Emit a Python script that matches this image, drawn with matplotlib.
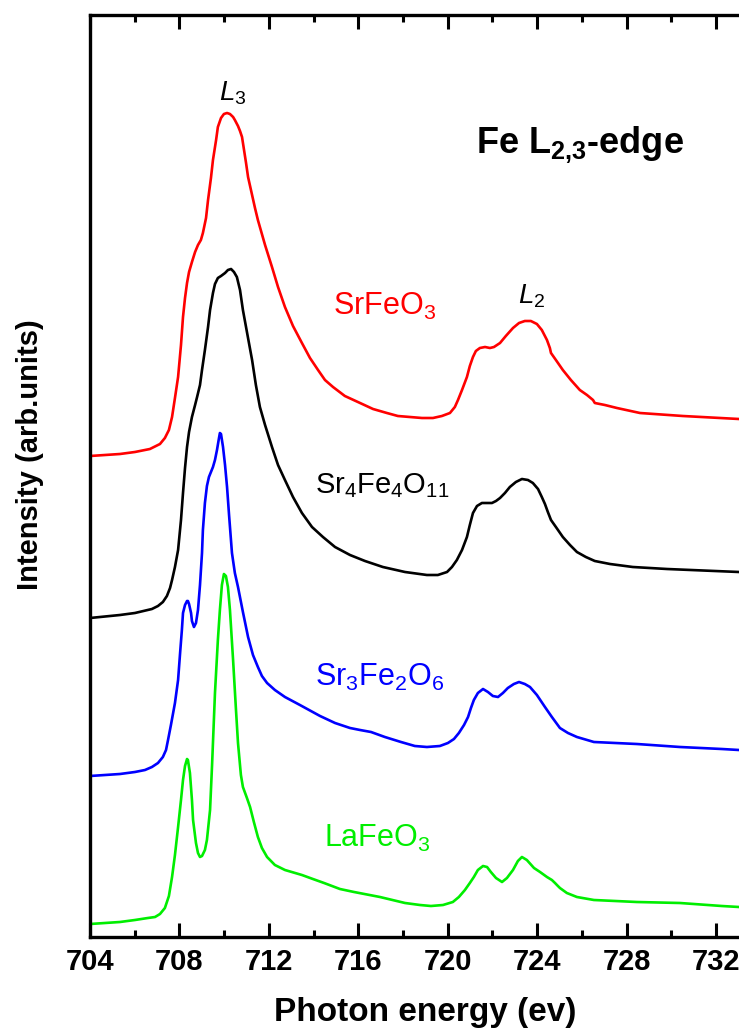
import matplotlib
matplotlib.use("Agg")
import matplotlib.pyplot as plt
from matplotlib.ticker import MultipleLocator

plt.rcParams['font.family'] = ['Liberation Sans', 'DejaVu Sans']
plt.rcParams['mathtext.fontset'] = 'custom'
plt.rcParams['mathtext.rm'] = 'Liberation Sans'
plt.rcParams['mathtext.it'] = 'Liberation Sans:italic'
plt.rcParams['mathtext.bf'] = 'Liberation Sans:bold'

# ---------------- data (photon energy in eV, intensity in arb. units, curves offset) ----------------
sfo_x = [704.00, 705.34, 706.01, 706.68, 707.13, 707.35, 707.53, 707.67, 707.80, 707.94, 708.07,
         708.16, 708.25, 708.34, 708.43, 708.56, 708.70, 708.83, 708.96, 709.05, 709.19, 709.28,
         709.41, 709.50, 709.64, 709.72, 709.86, 709.99, 710.13, 710.26, 710.40, 710.48, 710.62,
         710.71, 710.80, 710.89, 710.98, 711.07, 711.25, 711.38, 711.51, 711.83, 712.14, 712.41,
         712.72, 713.08, 713.48, 713.84, 714.20, 714.51, 714.87, 715.40, 716.08, 716.66, 717.28,
         717.77, 718.31, 718.85, 719.34, 719.74, 720.10, 720.32, 720.46, 720.64, 720.86, 720.99,
         721.13, 721.26, 721.44, 721.67, 721.89, 722.07, 722.34, 722.60, 722.92, 723.19, 723.45,
         723.72, 723.99, 724.21, 724.44, 724.57, 724.62, 724.84, 725.15, 725.51, 725.91, 726.23,
         726.50, 726.58, 727.03, 727.57, 728.60, 730.52, 733.03]
sfo_y = [4.81, 4.83, 4.85, 4.88, 4.93, 4.99, 5.07, 5.20, 5.39, 5.60, 5.92,
         6.20, 6.39, 6.54, 6.65, 6.75, 6.85, 6.92, 6.97, 7.04, 7.19, 7.37,
         7.59, 7.77, 7.97, 8.10, 8.19, 8.23, 8.24, 8.23, 8.20, 8.17, 8.11,
         8.06, 8.00, 7.87, 7.74, 7.60, 7.42, 7.29, 7.17, 6.92, 6.70, 6.50,
         6.30, 6.11, 5.94, 5.79, 5.67, 5.57, 5.50, 5.41, 5.34, 5.28, 5.24,
         5.21, 5.20, 5.19, 5.19, 5.21, 5.24, 5.30, 5.37, 5.47, 5.60, 5.71,
         5.80, 5.86, 5.89, 5.90, 5.89, 5.90, 5.94, 6.01, 6.09, 6.14, 6.16,
         6.16, 6.13, 6.07, 5.97, 5.89, 5.84, 5.77, 5.67, 5.57, 5.47, 5.42,
         5.37, 5.34, 5.32, 5.29, 5.24, 5.21, 5.18]

s4_x = [704.00, 705.34, 706.01, 706.77, 707.04, 707.26, 707.44, 707.58, 707.67, 707.80, 707.94,
        708.07, 708.16, 708.25, 708.34, 708.43, 708.56, 708.70, 708.79, 708.92, 709.01, 709.14,
        709.28, 709.37, 709.50, 709.59, 709.72, 709.86, 710.04, 710.17, 710.31, 710.44, 710.57,
        710.71, 710.84, 711.02, 711.25, 711.42, 711.60, 711.83, 712.14, 712.41, 712.72, 713.08,
        713.48, 713.93, 714.42, 714.96, 715.63, 716.30, 717.10, 718.09, 719.07, 719.56, 719.97,
        720.19, 720.41, 720.64, 720.86, 720.99, 721.13, 721.31, 721.53, 721.76, 721.98, 722.16,
        722.34, 722.56, 722.78, 723.05, 723.32, 723.59, 723.81, 724.04, 724.21, 724.35, 724.48,
        724.62, 724.84, 725.15, 725.47, 725.78, 726.18, 726.58, 727.26, 728.28, 729.81, 733.03]
s4_y = [3.19, 3.22, 3.24, 3.28, 3.31, 3.35, 3.41, 3.49, 3.57, 3.70, 3.87,
        4.17, 4.44, 4.69, 4.90, 5.05, 5.20, 5.32, 5.40, 5.52, 5.67, 5.87,
        6.10, 6.27, 6.44, 6.53, 6.59, 6.61, 6.64, 6.67, 6.68, 6.65, 6.60,
        6.47, 6.27, 6.05, 5.77, 5.52, 5.30, 5.12, 4.90, 4.72, 4.57, 4.40,
        4.24, 4.10, 4.00, 3.90, 3.82, 3.76, 3.70, 3.65, 3.62, 3.62, 3.65,
        3.70, 3.77, 3.87, 4.00, 4.12, 4.24, 4.31, 4.34, 4.34, 4.34, 4.36,
        4.39, 4.44, 4.50, 4.55, 4.58, 4.57, 4.54, 4.48, 4.40, 4.33, 4.25,
        4.17, 4.10, 4.00, 3.92, 3.85, 3.80, 3.76, 3.73, 3.70, 3.68, 3.65]

s3_x = [704.00, 705.34, 706.01, 706.46, 706.77, 707.04, 707.26, 707.40, 707.49, 707.62, 707.80,
        707.94, 708.03, 708.11, 708.16, 708.25, 708.34, 708.38, 708.43, 708.52, 708.56, 708.65,
        708.74, 708.83, 708.92, 709.01, 709.05, 709.14, 709.23, 709.32, 709.41, 709.50, 709.59,
        709.68, 709.77, 709.81, 709.86, 709.95, 710.04, 710.13, 710.22, 710.35, 710.48, 710.62,
        710.84, 711.07, 711.29, 711.51, 711.69, 711.92, 712.27, 712.72, 713.39, 714.29, 714.96,
        715.63, 716.08, 716.57, 717.19, 717.91, 718.53, 719.07, 719.65, 720.01, 720.28, 720.50,
        720.73, 720.91, 721.04, 721.17, 721.35, 721.58, 721.80, 722.02, 722.25, 722.47, 722.69,
        722.96, 723.19, 723.45, 723.68, 723.99, 724.35, 724.66, 725.02, 725.38, 725.78, 726.54,
        728.46, 730.39, 732.26, 733.03]
s3_y = [1.61, 1.63, 1.65, 1.67, 1.70, 1.74, 1.80, 1.87, 1.97, 2.12, 2.34,
        2.57, 2.84, 3.07, 3.24, 3.32, 3.36, 3.36, 3.33, 3.24, 3.16, 3.10,
        3.14, 3.27, 3.52, 3.84, 4.07, 4.34, 4.51, 4.60, 4.65, 4.70, 4.77,
        4.87, 4.99, 5.04, 5.03, 4.90, 4.72, 4.50, 4.22, 3.84, 3.64, 3.50,
        3.25, 3.00, 2.82, 2.70, 2.61, 2.54, 2.47, 2.40, 2.32, 2.21, 2.14,
        2.09, 2.07, 2.05, 2.00, 1.95, 1.91, 1.90, 1.91, 1.94, 1.98, 2.04,
        2.12, 2.20, 2.29, 2.37, 2.44, 2.48, 2.45, 2.41, 2.40, 2.44, 2.49,
        2.53, 2.55, 2.53, 2.50, 2.42, 2.30, 2.20, 2.09, 2.04, 2.00, 1.95,
        1.93, 1.90, 1.88, 1.87]

lfo_x = [704.00, 705.34, 706.01, 706.59, 706.91, 707.13, 707.35, 707.53, 707.67, 707.80, 707.94,
         708.07, 708.16, 708.25, 708.34, 708.38, 708.47, 708.56, 708.61, 708.74, 708.83, 708.92,
         709.01, 709.14, 709.23, 709.37, 709.46, 709.59, 709.72, 709.81, 709.90, 709.99, 710.08,
         710.17, 710.26, 710.40, 710.53, 710.62, 710.75, 710.84, 711.02, 711.16, 711.33, 711.51,
         711.69, 711.92, 712.27, 712.72, 713.48, 713.97, 714.47, 715.18, 715.81, 716.97, 718.09,
         718.76, 719.25, 719.79, 720.23, 720.50, 720.77, 720.99, 721.17, 721.35, 721.58, 721.76,
         721.93, 722.16, 722.43, 722.65, 722.92, 723.14, 723.32, 723.54, 723.86, 724.13, 724.44,
         724.66, 724.80, 724.93, 725.02, 725.33, 725.78, 726.54, 728.46, 730.39, 732.26, 733.03]
lfo_y = [0.13, 0.15, 0.17, 0.19, 0.20, 0.23, 0.29, 0.41, 0.60, 0.82, 1.10,
         1.37, 1.57, 1.71, 1.78, 1.77, 1.64, 1.37, 1.17, 0.94, 0.84, 0.80,
         0.81, 0.87, 0.97, 1.27, 1.72, 2.44, 2.97, 3.27, 3.52, 3.63, 3.61,
         3.50, 3.27, 2.77, 2.27, 1.94, 1.62, 1.50, 1.39, 1.30, 1.15, 1.00,
         0.89, 0.80, 0.72, 0.67, 0.62, 0.58, 0.54, 0.48, 0.45, 0.40, 0.34,
         0.32, 0.31, 0.32, 0.35, 0.40, 0.47, 0.54, 0.60, 0.67, 0.71, 0.70,
         0.65, 0.59, 0.55, 0.59, 0.67, 0.76, 0.80, 0.77, 0.69, 0.65, 0.60,
         0.57, 0.54, 0.51, 0.49, 0.44, 0.40, 0.37, 0.35, 0.34, 0.31, 0.30]

x_ticks = [704, 708, 712, 716, 720, 724, 728, 732]

# ---------------- figure ----------------
fig = plt.figure(figsize=(7.39, 10.30), dpi=100)
ax = fig.add_axes([90 / 739, 93 / 1030, 1 - 90 / 739, (937 - 15) / 1030])

lw = 1.9
for xs, ys, col in [(sfo_x, sfo_y, '#ff0000'), (s4_x, s4_y, '#000000'),
                    (s3_x, s3_y, '#0000ff'), (lfo_x, lfo_y, '#00ee00')]:
    ax.plot(xs, ys, color=col, lw=lw, solid_joinstyle='round', solid_capstyle='round')

ax.set_xlim(704, 733.03)
ax.set_ylim(0, 9.22)

ax.set_xticks(x_ticks)
ax.xaxis.set_minor_locator(MultipleLocator(2))
ax.set_yticks([])
ax.tick_params(axis='x', which='major', direction='in', length=10, width=2.2,
               top=True, bottom=True, labelsize=21, pad=8)
ax.tick_params(axis='x', which='minor', direction='in', length=5, width=2.2,
               top=True, bottom=True)
for lab in ax.get_xticklabels():
    lab.set_fontweight('bold')

for side in ['left', 'bottom', 'top']:
    ax.spines[side].set_linewidth(2.4)
ax.spines['right'].set_visible(False)

ax.set_xlabel('Photon energy (ev)', fontsize=24, fontweight='bold')
ax.xaxis.set_label_coords((425 - 90) / (739 - 90), -(997 - 937) / 922)
ax.set_ylabel('Intensity (arb.units)', fontsize=21, fontweight='bold')
ax.yaxis.set_label_coords(-(90 - 44) / 649, (937 - 455) / 922)

# ---------------- annotations ----------------
ax.text(714.87, 6.22, r'SrFeO$_3$', color='#ff0000', fontsize=22, va='baseline', ha='left')
ax.text(714.06, 4.44, r'Sr$_4$Fe$_4$O$_{11}$', color='black', fontsize=21, va='baseline', ha='left')
ax.text(714.06, 2.51, r'Sr$_3$Fe$_2$O$_6$', color='#0000ff', fontsize=22, va='baseline', ha='left')
ax.text(714.47, 0.90, r'LaFeO$_3$', color='#00ee00', fontsize=22, va='baseline', ha='left')
ax.text(709.77, 8.37, r'$\mathit{L_3}$', color='black', fontsize=20, va='baseline', ha='left')
ax.text(723.14, 6.34, r'$\mathit{L_2}$', color='black', fontsize=20, va='baseline', ha='left')
ax.text(721.26, 7.84, r'Fe L$_{\mathbf{2{,}3}}$-edge', color='black', fontsize=26,
        fontweight='bold', va='baseline', ha='left')

fig.savefig('out.png', dpi=100)
